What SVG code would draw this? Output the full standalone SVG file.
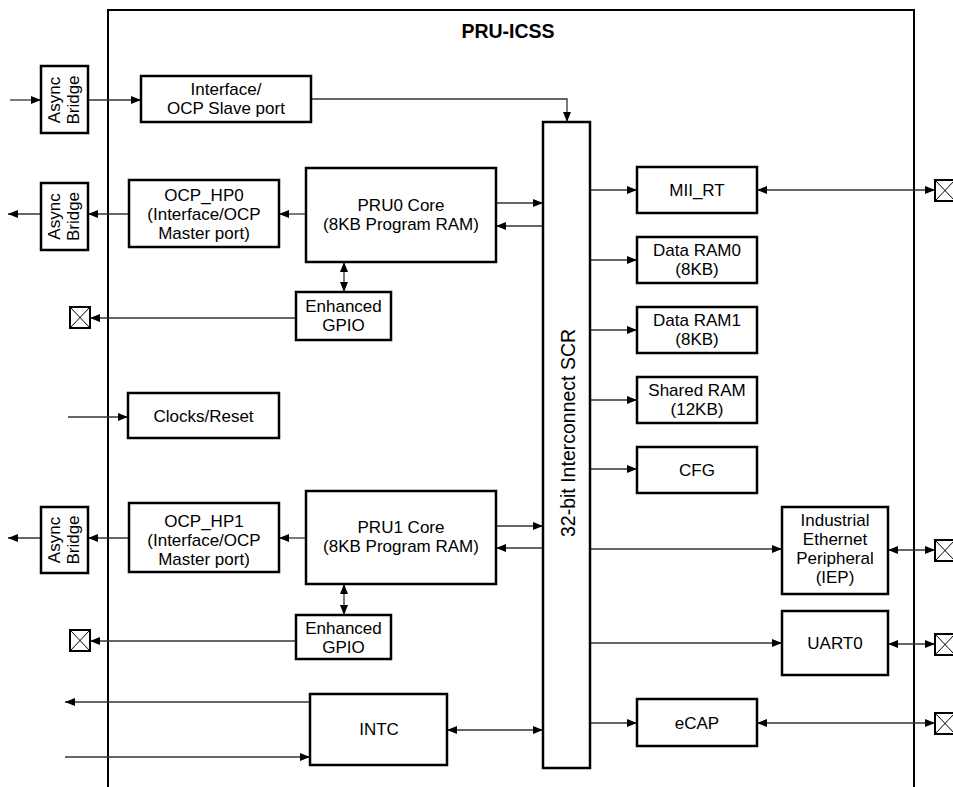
<svg xmlns="http://www.w3.org/2000/svg" width="953" height="787" viewBox="0 0 953 787">
<defs>
<style>
.box{fill:#fff;stroke:#000;stroke-width:2.5}
.frame{fill:none;stroke:#000;stroke-width:2}
.c{fill:none;stroke:#333;stroke-width:1.3}
.pin{fill:#fff;stroke:#000;stroke-width:2}
.pinx{stroke:#000;stroke-width:1}
text{font-family:"Liberation Sans",Arial,sans-serif;font-size:17px;fill:#000;text-anchor:middle}
.title{font-weight:bold;font-size:19.5px}
.scr{font-size:19.5px;text-anchor:start}
</style>
<marker id="a" viewBox="0 0 10 8" refX="10" refY="4" markerWidth="10" markerHeight="8" markerUnits="userSpaceOnUse" orient="auto-start-reverse">
<path d="M0,0 L10,4 L0,8 z" fill="#000"/>
</marker>
</defs>
<rect width="953" height="787" fill="#fff"/>
<g id="container">
<path class="frame" d="M108,787 V10 H914 V787"/>
<text class="title" x="508" y="38">PRU-ICSS</text>
</g>
<g id="connectors">
<path class="c" d="M10,100 H41" marker-end="url(#a)"/>
<path class="c" d="M88,100 H141" marker-end="url(#a)"/>
<path class="c" d="M311,99 H567 V122" marker-end="url(#a)"/>
<path class="c" d="M496,203 H543" marker-end="url(#a)"/>
<path class="c" d="M543,226 H496" marker-end="url(#a)"/>
<path class="c" d="M306,214 H279" marker-end="url(#a)"/>
<path class="c" d="M129,214 H88" marker-end="url(#a)"/>
<path class="c" d="M41,214 H8" marker-end="url(#a)"/>
<path class="c" d="M344,262 V292" marker-start="url(#a)" marker-end="url(#a)"/>
<path class="c" d="M296,318 H90" marker-end="url(#a)"/>
<path class="c" d="M68,417 H128" marker-end="url(#a)"/>
<path class="c" d="M590,190 H637" marker-end="url(#a)"/>
<path class="c" d="M757,190 H935" marker-start="url(#a)" marker-end="url(#a)"/>
<path class="c" d="M590,260 H637" marker-end="url(#a)"/>
<path class="c" d="M590,330 H637" marker-end="url(#a)"/>
<path class="c" d="M590,400 H637" marker-end="url(#a)"/>
<path class="c" d="M590,469 H637" marker-end="url(#a)"/>
<path class="c" d="M590,549 H782" marker-end="url(#a)"/>
<path class="c" d="M888,550 H935" marker-start="url(#a)" marker-end="url(#a)"/>
<path class="c" d="M590,643 H782" marker-end="url(#a)"/>
<path class="c" d="M888,644 H935" marker-start="url(#a)" marker-end="url(#a)"/>
<path class="c" d="M590,723 H637" marker-end="url(#a)"/>
<path class="c" d="M757,723 H935" marker-start="url(#a)" marker-end="url(#a)"/>
<path class="c" d="M496,526 H543" marker-end="url(#a)"/>
<path class="c" d="M543,548 H496" marker-end="url(#a)"/>
<path class="c" d="M306,538 H279" marker-end="url(#a)"/>
<path class="c" d="M129,538 H88" marker-end="url(#a)"/>
<path class="c" d="M41,538 H8" marker-end="url(#a)"/>
<path class="c" d="M344,584 V615" marker-start="url(#a)" marker-end="url(#a)"/>
<path class="c" d="M296,641 H90" marker-end="url(#a)"/>
<path class="c" d="M310,702 H65" marker-end="url(#a)"/>
<path class="c" d="M65,757 H310" marker-end="url(#a)"/>
<path class="c" d="M447,730 H543" marker-start="url(#a)" marker-end="url(#a)"/>
</g>
<g id="async1">
<rect class="box" x="41" y="66" width="47" height="67"/>
<text transform="translate(64.5,100) rotate(-90)"><tspan x="0" y="-5">Async</tspan><tspan x="0" y="14">Bridge</tspan></text>
</g>
<g id="async2">
<rect class="box" x="41" y="183" width="47" height="67"/>
<text transform="translate(64.5,216.5) rotate(-90)"><tspan x="0" y="-5">Async</tspan><tspan x="0" y="14">Bridge</tspan></text>
</g>
<g id="async3">
<rect class="box" x="41" y="507" width="47" height="66"/>
<text transform="translate(64.5,540) rotate(-90)"><tspan x="0" y="-5">Async</tspan><tspan x="0" y="14">Bridge</tspan></text>
</g>
<g id="slaveport">
<rect class="box" x="141" y="76" width="170" height="46"/>
<text x="226" y="95">Interface/</text>
<text x="226" y="114">OCP Slave port</text>
</g>
<g id="ocp_hp0">
<rect class="box" x="129" y="180" width="150" height="67"/>
<text x="204" y="201">OCP_HP0</text>
<text x="204" y="220">(Interface/OCP</text>
<text x="204" y="239">Master port)</text>
</g>
<g id="pru0">
<rect class="box" x="306" y="168" width="190" height="94"/>
<text x="401" y="211">PRU0 Core</text>
<text x="401" y="230">(8KB Program RAM)</text>
</g>
<g id="gpio0">
<rect class="box" x="296" y="292" width="95" height="48"/>
<text x="343.5" y="312">Enhanced</text>
<text x="343.5" y="331">GPIO</text>
</g>
<g id="pin_gpio0">
<rect class="pin" x="70" y="307" width="20" height="21"/>
<path class="pinx" d="M70,307 L90,328 M90,307 L70,328"/>
</g>
<g id="clocks">
<rect class="box" x="128" y="393" width="151" height="45"/>
<text x="203.5" y="422">Clocks/Reset</text>
</g>
<g id="ocp_hp1">
<rect class="box" x="129" y="503" width="150" height="69"/>
<text x="204" y="527">OCP_HP1</text>
<text x="204" y="546">(Interface/OCP</text>
<text x="204" y="565">Master port)</text>
</g>
<g id="pru1">
<rect class="box" x="306" y="491" width="190" height="93"/>
<text x="401" y="533">PRU1 Core</text>
<text x="401" y="552">(8KB Program RAM)</text>
</g>
<g id="gpio1">
<rect class="box" x="296" y="615" width="95" height="44"/>
<text x="343.5" y="634">Enhanced</text>
<text x="343.5" y="653">GPIO</text>
</g>
<g id="pin_gpio1">
<rect class="pin" x="70" y="630" width="20" height="21"/>
<path class="pinx" d="M70,630 L90,651 M90,630 L70,651"/>
</g>
<g id="intc">
<rect class="box" x="310" y="694" width="137" height="71"/>
<text x="379" y="735">INTC</text>
</g>
<g id="scr">
<rect class="box" x="543" y="122" width="47" height="646"/>
<text class="scr" transform="translate(574.5,537) rotate(-90)">32-bit Interconnect SCR</text>
</g>
<g id="mii_rt">
<rect class="box" x="637" y="167" width="120" height="46"/>
<text x="697" y="196">MII_RT</text>
</g>
<g id="ram0">
<rect class="box" x="637" y="237" width="120" height="46"/>
<text x="697" y="256">Data RAM0</text>
<text x="697" y="275">(8KB)</text>
</g>
<g id="ram1">
<rect class="box" x="637" y="307" width="120" height="46"/>
<text x="697" y="326">Data RAM1</text>
<text x="697" y="345">(8KB)</text>
</g>
<g id="sharedram">
<rect class="box" x="637" y="377" width="120" height="46"/>
<text x="697" y="396">Shared RAM</text>
<text x="697" y="415">(12KB)</text>
</g>
<g id="cfg">
<rect class="box" x="637" y="447" width="120" height="46"/>
<text x="697" y="476">CFG</text>
</g>
<g id="iep">
<rect class="box" x="782" y="507" width="106" height="87"/>
<text x="835" y="526">Industrial</text>
<text x="835" y="545">Ethernet</text>
<text x="835" y="564">Peripheral</text>
<text x="835" y="583">(IEP)</text>
</g>
<g id="uart0">
<rect class="box" x="782" y="611" width="106" height="64"/>
<text x="835" y="649">UART0</text>
</g>
<g id="ecap">
<rect class="box" x="637" y="699" width="120" height="47"/>
<text x="697" y="729">eCAP</text>
</g>
<g id="pin_mii">
<rect class="pin" x="935" y="180" width="20" height="21"/>
<path class="pinx" d="M935,180 L955,201 M955,180 L935,201"/>
</g>
<g id="pin_iep">
<rect class="pin" x="935" y="540" width="20" height="21"/>
<path class="pinx" d="M935,540 L955,561 M955,540 L935,561"/>
</g>
<g id="pin_uart">
<rect class="pin" x="935" y="634" width="20" height="21"/>
<path class="pinx" d="M935,634 L955,655 M955,634 L935,655"/>
</g>
<g id="pin_ecap">
<rect class="pin" x="935" y="713" width="20" height="21"/>
<path class="pinx" d="M935,713 L955,734 M955,713 L935,734"/>
</g>
</svg>
